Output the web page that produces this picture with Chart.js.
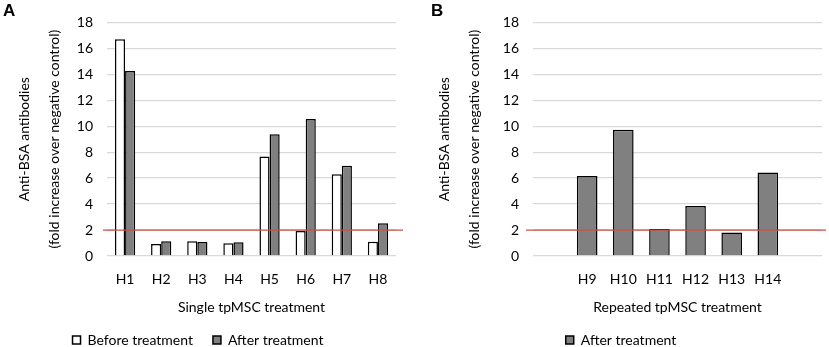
<!DOCTYPE html>
<html lang="en">
<head>
    <meta charset="UTF-8">
    <title>Anti-BSA antibodies</title>
    <style>
        body {
            margin: 0;
            padding: 0;
            background: #fff;
            width: 829px;
            height: 347px;
            overflow: hidden;
            position: relative;
        }

        .panel {
            position: absolute;
            top: 0;
            height: 347px;
        }

        #panelA { left: 0; width: 420px; }
        #panelB { left: 420px; width: 409px; }

        .letter {
            position: absolute;
            top: 1px;
            font-family: "Liberation Sans", Arial, sans-serif;
            font-weight: bold;
            font-size: 17px;
            color: #000;
        }
    </style>
    <script src="https://cdn.jsdelivr.net/npm/chart.js"></script>
</head>
<body>
    <div class="panel" id="panelA"><canvas id="chartA" width="420" height="347"></canvas></div>
    <div class="panel" id="panelB"><canvas id="chartB" width="409" height="347"></canvas></div>
    <div class="letter" style="left:3px">A</div>
    <div class="letter" style="left:431px">B</div>

    <script>
        // Data
        const labelsA = ['H1', 'H2', 'H3', 'H4', 'H5', 'H6', 'H7', 'H8'];
        const beforeA = [16.7, 0.93, 1.13, 0.98, 7.67, 1.92, 6.29, 1.1];
        const afterA = [14.25, 1.13, 1.08, 1.06, 9.39, 10.55, 6.96, 2.53];

        const labelsB = ['', 'H9', 'H10', 'H11', 'H12', 'H13', 'H14', ''];
        const afterB = [null, 6.17, 9.73, 2.09, 3.86, 1.82, 6.44, null];

        const threshold = 2;
        const yMax = 18;
        const yStep = 2;

        const fontFamily = 'Lato, "Open Sans", sans-serif';
        const textColor = '#000';
        const gridColor = '#d9d9d9';
        const lineColor = '#c9504a';

        // red reference line at the threshold
        const thresholdLine = {
            id: 'thresholdLine',
            afterDatasetsDraw(chart, args, opts) {
                const y = chart.scales.y.getPixelForValue(threshold);
                const ctx = chart.ctx;
                ctx.save();
                ctx.strokeStyle = lineColor;
                ctx.lineWidth = 1.3;
                ctx.beginPath();
                ctx.moveTo(chart.chartArea.left - opts.left, y);
                ctx.lineTo(chart.chartArea.right + opts.right, y);
                ctx.stroke();
                ctx.restore();
            }
        };

        function makeOptions(xTitle, pad, lineExt) {
            return {
                responsive: false,
                animation: false,
                layout: { padding: pad },
                plugins: {
                    legend: {
                        position: 'bottom',
                        labels: {
                            color: textColor,
                            font: { family: fontFamily, size: 14 },
                            boxWidth: 8,
                            boxHeight: 8,
                            padding: 20
                        }
                    },
                    tooltip: { enabled: false },
                    thresholdLine: lineExt
                },
                scales: {
                    x: {
                        grid: { display: false, drawTicks: false },
                        border: { display: false },
                        ticks: {
                            color: textColor,
                            font: { family: fontFamily, size: 14 },
                            padding: 15,
                            maxRotation: 0
                        },
                        title: {
                            display: true,
                            text: xTitle,
                            color: textColor,
                            font: { family: fontFamily, size: 14 },
                            padding: { top: 10, bottom: -3 }
                        },
                        afterFit: (scale) => { scale.height = 57; }
                    },
                    y: {
                        min: 0,
                        max: yMax,
                        grid: { color: gridColor, lineWidth: 1.3, drawTicks: false },
                        border: { display: false },
                        ticks: {
                            stepSize: yStep,
                            color: textColor,
                            font: { family: fontFamily, size: 14 },
                            padding: 14
                        },
                        title: {
                            display: true,
                            text: ['Anti-BSA antibodies', '(fold increase over negative control)'],
                            color: textColor,
                            font: { family: fontFamily, size: 14, lineHeight: 2.15 },
                            padding: { top: 9, bottom: 0 }
                        }
                    }
                }
            };
        }

        const optsA = makeOptions('Single tpMSC treatment', { left: 0, right: 24, top: 12, bottom: -10 }, { left: 4, right: 7 });
        optsA.scales.y.afterFit = (scale) => { scale.width = 107; };

        new Chart(document.getElementById('chartA'), {
            type: 'bar',
            data: {
                labels: labelsA,
                datasets: [
                    {
                        label: 'Before treatment',
                        data: beforeA,
                        backgroundColor: '#ffffff',
                        borderColor: '#000000',
                        borderWidth: 1.5,
                        categoryPercentage: 0.56,
                        barPercentage: 1
                    },
                    {
                        label: 'After treatment',
                        data: afterA,
                        backgroundColor: '#808080',
                        borderColor: '#000000',
                        borderWidth: 1.5,
                        categoryPercentage: 0.56,
                        barPercentage: 1
                    }
                ]
            },
            options: optsA,
            plugins: [thresholdLine]
        });

        const optsB = makeOptions('Repeated tpMSC treatment', { left: 0, right: 7, top: 12, bottom: -10 }, { left: 7, right: 4 });
        optsB.scales.y.afterFit = (scale) => { scale.width = 113; };

        new Chart(document.getElementById('chartB'), {
            type: 'bar',
            data: {
                labels: labelsB,
                datasets: [
                    {
                        label: 'After treatment',
                        data: afterB,
                        backgroundColor: '#808080',
                        borderColor: '#000000',
                        borderWidth: 1.5,
                        categoryPercentage: 0.57,
                        barPercentage: 1
                    }
                ]
            },
            options: optsB,
            plugins: [thresholdLine]
        });
    </script>
</body>
</html>
